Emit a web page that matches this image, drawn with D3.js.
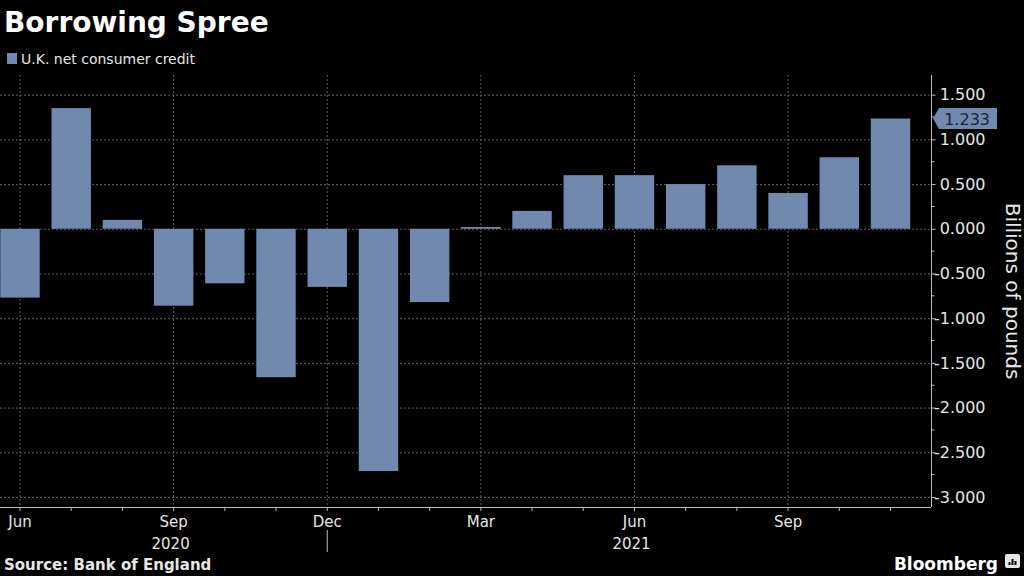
<!DOCTYPE html>
<html>
<head>
<meta charset="utf-8">
<script src="https://cdn.jsdelivr.net/npm/d3@7"></script>
<style>
    body { margin: 0; background: #000; }
    svg { display: block; }
    text { font-family: "DejaVu Sans", sans-serif; }
</style>
</head>
<body>
<svg id="chart" width="1024" height="576"></svg>
<script>
// monthly net consumer credit, Jun 2020 - Nov 2021 (billions of pounds)
const months = ["2020-06", "2020-07", "2020-08", "2020-09", "2020-10", "2020-11", "2020-12",
    "2021-01", "2021-02", "2021-03", "2021-04", "2021-05", "2021-06", "2021-07", "2021-08",
    "2021-09", "2021-10", "2021-11"];
const credit = [-0.77, 1.35, 0.10, -0.86, -0.61, -1.66, -0.65, -2.71, -0.82, 0.02, 0.20,
    0.60, 0.60, 0.50, 0.71, 0.40, 0.80, 1.233];
const yTicks = [1.5, 1.0, 0.5, 0, -0.5, -1.0, -1.5, -2.0, -2.5, -3.0];
const minorTicks = [1.25, 0.75, 0.25, -0.25, -0.75, -1.25, -1.75, -2.25, -2.75];
const monthLabels = [{m: "2020-06", label: "Jun"}, {m: "2020-09", label: "Sep"}, {m: "2020-12", label: "Dec"},
    {m: "2021-03", label: "Mar"}, {m: "2021-06", label: "Jun"}, {m: "2021-09", label: "Sep"}];
const yearLabels = [{m: "2020-09", label: "2020"}, {m: "2021-06", label: "2021"}];

const barColor = "#7189ae";
const gridColor = "#5e5e5e";
const axisColor = "#bdbdbd";
const fmt = v => d3.format(".3f")(v).replace("\u2212", "-");

const svg = d3.select("#chart");
const plotRight = 931, plotTop = 75, plotBottom = 507;

const x = d3.scaleBand().domain(months).range([-5.6, 916.1])
    .paddingInner(0.23).paddingOuter(0.115);
const y = d3.scaleLinear().domain([-3.112, 1.72]).range([plotBottom, plotTop]);
const cx = m => x(m) + x.bandwidth() / 2;

// title + legend
svg.append("text").attr("x", 4).attr("y", 32)
    .attr("font-size", 28).attr("font-weight", "bold").attr("fill", "#fff")
    .text("Borrowing Spree");
svg.append("rect").attr("x", 7).attr("y", 53).attr("width", 10).attr("height", 11).attr("fill", barColor);
svg.append("text").attr("x", 21).attr("y", 64)
    .attr("font-size", 14).attr("fill", "#e6e6e6")
    .text("U.K. net consumer credit");

// grid
svg.append("g").selectAll("line").data(yTicks).join("line")
    .attr("x1", 0).attr("x2", plotRight)
    .attr("y1", d => y(d) + 0.5).attr("y2", d => y(d) + 0.5)
    .attr("stroke", gridColor).attr("stroke-dasharray", "2,2");
svg.append("g").selectAll("line").data(monthLabels).join("line")
    .attr("x1", d => cx(d.m)).attr("x2", d => cx(d.m))
    .attr("y1", plotTop).attr("y2", plotBottom)
    .attr("stroke", gridColor).attr("stroke-dasharray", "2,2");

// bars
svg.append("g").selectAll("rect").data(months).join("rect")
    .attr("x", m => x(m))
    .attr("width", x.bandwidth())
    .attr("y", (m, i) => y(Math.max(0, credit[i])))
    .attr("height", (m, i) => Math.abs(y(credit[i]) - y(0)))
    .attr("fill", barColor);

// x axis
svg.append("line").attr("x1", 0).attr("x2", plotRight)
    .attr("y1", plotBottom + 0.5).attr("y2", plotBottom + 0.5).attr("stroke", axisColor);
svg.append("g").selectAll("line").data(months).join("line")
    .attr("x1", m => cx(m)).attr("x2", m => cx(m))
    .attr("y1", plotBottom).attr("y2", plotBottom + 4)
    .attr("stroke", axisColor);
svg.append("g").selectAll("text").data(monthLabels).join("text")
    .attr("x", d => cx(d.m)).attr("y", 527)
    .attr("text-anchor", "middle").attr("font-size", 15).attr("fill", "#e6e6e6")
    .text(d => d.label);
svg.append("g").selectAll("text").data(yearLabels).join("text")
    .attr("x", d => cx(d.m) - 3).attr("y", 549)
    .attr("text-anchor", "middle").attr("font-size", 15).attr("fill", "#e6e6e6")
    .text(d => d.label);
svg.append("line").attr("x1", cx("2020-12")).attr("x2", cx("2020-12"))
    .attr("y1", 530).attr("y2", 552).attr("stroke", axisColor);

// y axis on the right
const yAxis = d3.axisRight(y).tickValues(yTicks).tickSize(4).tickPadding(4).tickFormat(fmt);
const ga = svg.append("g").attr("transform", `translate(${plotRight + 0.5},0)`).call(yAxis);
ga.select(".domain").attr("stroke", axisColor).attr("d", `M0,${plotTop}V${plotBottom}`);
ga.selectAll(".tick line").attr("stroke", axisColor);
ga.selectAll(".tick text").attr("fill", "#e6e6e6").attr("font-size", 16)
    .attr("text-anchor", "end").attr("x", 54);
ga.append("g").selectAll("line").data(minorTicks).join("line")
    .attr("x1", 0).attr("x2", 3)
    .attr("y1", d => y(d)).attr("y2", d => y(d))
    .attr("stroke", axisColor);

// last value callout
const lastVal = credit[credit.length - 1];
const ly = y(lastVal);
svg.append("path")
    .attr("d", `M${plotRight + 2},${ly} L${plotRight + 8},${ly - 10.5} H997 V${ly + 10.5} H${plotRight + 8} Z`)
    .attr("fill", barColor);
svg.append("text").attr("x", 990).attr("y", ly + 6)
    .attr("text-anchor", "end").attr("font-size", 16).attr("fill", "#1d2433")
    .text(fmt(lastVal));

// axis title
svg.append("text")
    .attr("transform", "translate(1006,291) rotate(90)")
    .attr("text-anchor", "middle").attr("font-size", 20).attr("fill", "#e6e6e6")
    .text("Billions of pounds");

// footer
svg.append("text").attr("x", 4).attr("y", 570)
    .attr("font-size", 15).attr("font-weight", "bold").attr("fill", "#e6e6e6")
    .text("Source: Bank of England");
svg.append("text").attr("x", 998).attr("y", 570)
    .attr("text-anchor", "end").attr("font-size", 17).attr("font-weight", "bold").attr("fill", "#fff")
    .text("Bloomberg");
svg.append("rect").attr("x", 1005).attr("y", 554).attr("width", 15).attr("height", 14).attr("rx", 2)
    .attr("fill", "#e6e6e6");
svg.append("g").selectAll("rect").data([3, 6, 4]).join("rect")
    .attr("x", (d, i) => 1008.5 + i * 3).attr("y", d => 565 - d)
    .attr("width", 2).attr("height", d => d)
    .attr("fill", "#000");
</script>
</body>
</html>
